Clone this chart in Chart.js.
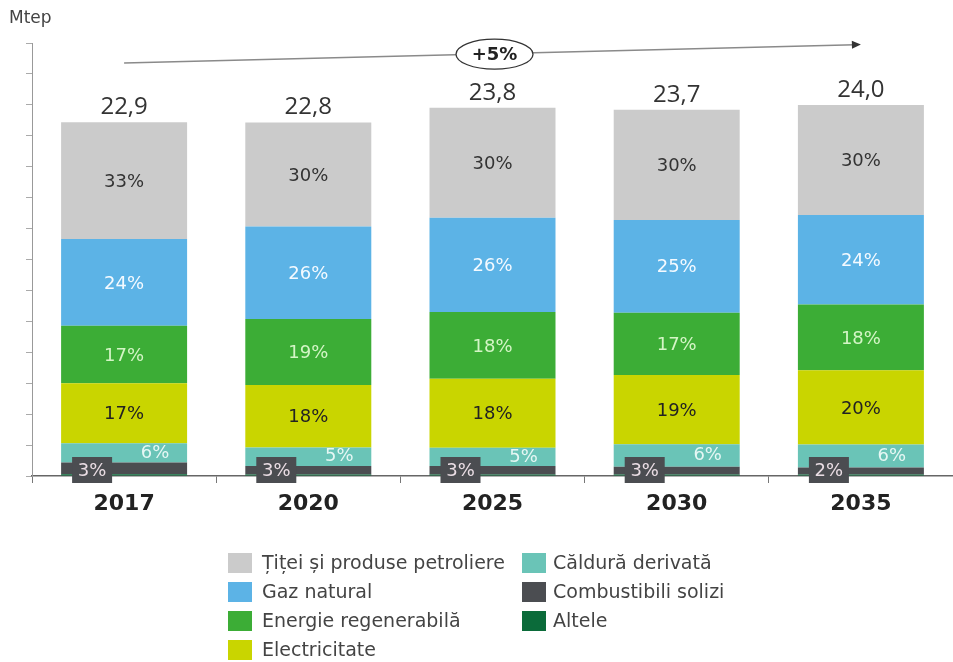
<!DOCTYPE html>
<html>
<head>
<meta charset="utf-8">
<script src="https://cdn.jsdelivr.net/npm/chart.js@4.4.0/dist/chart.umd.min.js"></script>
<style>
html,body{margin:0;padding:0;background:#fff;}
#wrap{position:relative;width:953px;height:662px;overflow:hidden;background:#fff;}
#c{position:absolute;left:0;top:0;}
#unit{position:absolute;left:9px;top:7px;font-family:"DejaVu Sans";font-size:17px;color:#444;}
.lg{position:absolute;font-family:"DejaVu Sans";font-size:19px;color:#444;white-space:nowrap;height:20px;line-height:20px;}
.lg .sw{position:absolute;left:0;top:0;width:24px;height:20px;}
.lg .tx{position:absolute;top:-1px;}
</style>
</head>
<body>
<div id="wrap">
  <canvas id="c" width="953" height="662"></canvas>
  <div id="unit">Mtep</div>
  <div id="legend"></div>
</div>
<script>
// ---- data ----
const years = ['2017', '2020', '2025', '2030', '2035'];
const totalsText = ['22,9', '22,8', '23,8', '23,7', '24,0'];

const seriesNames = ['Altele', 'Combustibili solizi', 'Căldură derivată', 'Electricitate',
                     'Energie regenerabilă', 'Gaz natural', 'Țiței și produse petroliere'];

// Mtep values
const altele     = [0.12, 0.10, 0.10, 0.10, 0.10];
const solizi     = [0.75, 0.55, 0.54, 0.50, 0.45];
const caldura    = [1.25, 1.20, 1.19, 1.45, 1.48];
const electric   = [3.88, 4.03, 4.46, 4.48, 4.81];
const regen      = [3.72, 4.27, 4.31, 4.03, 4.25];
const gaz        = [5.60, 5.98, 6.10, 6.00, 5.78];
const titei      = [7.55, 6.73, 7.12, 7.12, 7.12];

// percentage labels
const pctTitei   = ['33%', '30%', '30%', '30%', '30%'];
const pctGaz     = ['24%', '26%', '26%', '25%', '24%'];
const pctRegen   = ['17%', '19%', '18%', '17%', '18%'];
const pctElec    = ['17%', '18%', '18%', '19%', '20%'];
const pctCaldura = ['6%', '5%', '5%', '6%', '6%'];
const pctSolizi  = ['3%', '3%', '3%', '3%', '2%'];

const growthText = '+5%';

// ---- styles ----
const colors = ['#0b6b3a', '#4b4d51', '#6ac4b7', '#c9d500', '#3cad36', '#5cb3e6', '#cbcbcb'];
const seriesData = [altele, solizi, caldura, electric, regen, gaz, titei];

const datasets = seriesNames.map((n, i) => ({
  label: n,
  data: seriesData[i],
  backgroundColor: colors[i],
  borderWidth: 0,
  barPercentage: 0.684,
  categoryPercentage: 1.0
}));

const labelPlugin = {
  id: 'customLabels',
  afterDatasetsDraw(chart) {
    const ctx = chart.ctx;
    ctx.save();
    ctx.textAlign = 'center';
    ctx.textBaseline = 'middle';
    ctx.font = '18px "DejaVu Sans"';
    const centerSets = [[6, pctTitei, '#333333'], [5, pctGaz, '#f4faff'], [4, pctRegen, '#d4f5c6'], [3, pctElec, '#222222']];
    centerSets.forEach(([di, labels, color]) => {
      chart.getDatasetMeta(di).data.forEach((bar, i) => {
        ctx.fillStyle = color;
        ctx.fillText(labels[i], bar.x, (bar.y + bar.base) / 2 + 1.5);
      });
    });
    // caldura labels (right side)
    ctx.font = '18px "DejaVu Sans"';
    chart.getDatasetMeta(2).data.forEach((bar, i) => {
      ctx.fillStyle = '#e6f7f4';
      ctx.fillText(pctCaldura[i], bar.x + 31, (bar.y + bar.base) / 2);
    });
    // solid fuel labels (boxed, left)
    chart.getDatasetMeta(1).data.forEach((bar, i) => {
      const cx = bar.x - 32, cy = chart.scales.y.getPixelForValue(0) - 6;
      ctx.fillStyle = '#4b4d51';
      ctx.fillRect(cx - 20, cy - 13, 40, 26);
      ctx.fillStyle = '#eadde4';
      ctx.fillText(pctSolizi[i], cx, cy + 1);
    });
    // totals
    ctx.font = '24px "Open Sans"';
    ctx.fillStyle = '#333333';
    ctx.textBaseline = 'alphabetic';
    chart.getDatasetMeta(6).data.forEach((bar, i) => {
      ctx.fillText(totalsText[i], bar.x, bar.y - 8);
    });
    // growth arrow
    const xs = chart.scales.x, ys = chart.scales.y;
    const x0 = xs.getPixelForValue(0), y0 = ys.getPixelForValue(26.7);
    const x1 = xs.getPixelForValue(4), y1 = ys.getPixelForValue(27.9);
    ctx.strokeStyle = '#8a8a8a';
    ctx.lineWidth = 1.5;
    ctx.beginPath(); ctx.moveTo(x0, y0); ctx.lineTo(x1 - 6, y1 + 0.15); ctx.stroke();
    const ang = Math.atan2(y1 - y0, x1 - x0);
    ctx.fillStyle = '#333';
    ctx.beginPath();
    ctx.moveTo(x1, y1);
    ctx.lineTo(x1 - 9 * Math.cos(ang) + 4 * Math.sin(ang), y1 - 9 * Math.sin(ang) - 4 * Math.cos(ang));
    ctx.lineTo(x1 - 9 * Math.cos(ang) - 4 * Math.sin(ang), y1 - 9 * Math.sin(ang) + 4 * Math.cos(ang));
    ctx.closePath(); ctx.fill();
    const ox = xs.getPixelForValue(2) + 2, oy = ys.getPixelForValue(27.28);
    ctx.beginPath();
    ctx.ellipse(ox, oy, 38.5, 15, 0, 0, Math.PI * 2);
    ctx.fillStyle = '#ffffff'; ctx.fill();
    ctx.strokeStyle = '#333'; ctx.lineWidth = 1.3; ctx.stroke();
    ctx.fillStyle = '#222';
    ctx.font = 'bold 18px "DejaVu Sans"';
    ctx.textBaseline = 'middle';
    ctx.fillText(growthText, ox, oy + 1);
    ctx.restore();
  }
};

new Chart(document.getElementById('c'), {
  type: 'bar',
  data: { labels: years, datasets },
  options: {
    responsive: false,
    animation: false,
    devicePixelRatio: 1,
    layout: { padding: { top: 43, left: 0, right: 0, bottom: 136 } },
    plugins: { legend: { display: false }, tooltip: { enabled: false } },
    scales: {
      x: {
        stacked: true,
        offset: true,
        grid: { display: true, offset: true, drawOnChartArea: false, drawTicks: true, tickLength: 7, color: '#777777' },
        border: { display: true, color: '#666666', width: 1.5 },
        ticks: { font: { family: 'DejaVu Sans', size: 22, weight: 'bold' }, color: '#222222', padding: 8, maxRotation: 0 },
        afterFit(s) { s.height = 50; }
      },
      y: {
        stacked: true,
        min: 0, max: 28,
        ticks: { display: false, stepSize: 2 },
        grid: { display: true, drawOnChartArea: false, drawTicks: true, tickLength: 6, color: '#aaaaaa' },
        border: { display: true, color: '#999999', width: 1 },
        afterFit(s) { s.width = 32; }
      }
    }
  },
  plugins: [labelPlugin]
});

// legend (two columns, column-major like the reference)
const legendItems = [
  [6, 228, 553], [5, 228, 582], [4, 228, 611], [3, 228, 640],
  [2, 522, 553], [1, 522, 582], [0, 522, 611]
];
const lg = document.getElementById('legend');
legendItems.forEach(([si, left, top]) => {
  const d = document.createElement('div');
  d.className = 'lg';
  d.style.left = left + 'px';
  d.style.top = top + 'px';
  const sw = document.createElement('span');
  sw.className = 'sw';
  sw.style.background = colors[si];
  const tx = document.createElement('span');
  tx.className = 'tx';
  tx.style.left = (left === 228 ? 34 : 31) + 'px';
  tx.textContent = seriesNames[si];
  d.appendChild(sw); d.appendChild(tx);
  lg.appendChild(d);
});
</script>
</body>
</html>
